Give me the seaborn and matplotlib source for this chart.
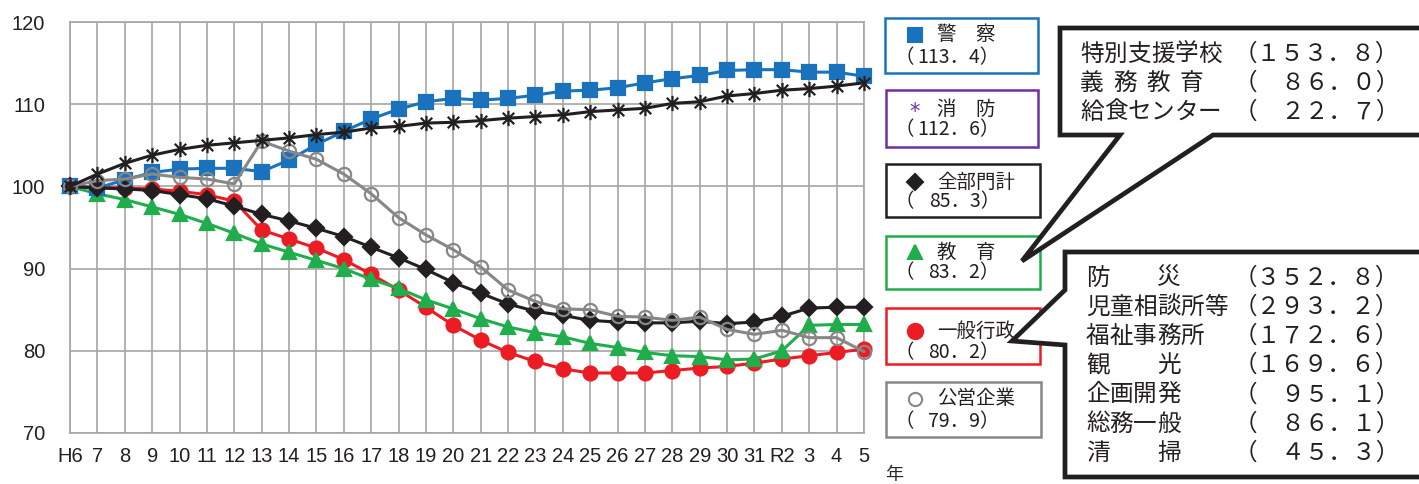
import matplotlib
matplotlib.use('Agg')
import numpy as np
import pandas as pd
import matplotlib.pyplot as plt
import seaborn as sns
from matplotlib.patches import Rectangle, Polygon
from matplotlib.lines import Line2D
from matplotlib.path import Path

# --- data (index, H6 = 100) ---
years = ['H6', '7', '8', '9', '10', '11', '12', '13', '14', '15', '16', '17', '18', '19', '20',
         '21', '22', '23', '24', '25', '26', '27', '28', '29', '30', '31', 'R2', '3', '4', '5']
police = [100, 99.8, 100.8, 101.7, 102.1, 102.2, 102.2, 101.8, 103.2, 105.1, 106.7, 108.2, 109.4, 110.3, 110.7,
          110.5, 110.7, 111.1, 111.6, 111.7, 112.0, 112.6, 113.1, 113.5, 114.1, 114.2, 114.2, 113.9, 113.9, 113.4]
fire = [100, 101.5, 102.8, 103.8, 104.5, 105.0, 105.3, 105.6, 105.9, 106.3, 106.6, 107.1, 107.3, 107.7, 107.8,
        108.0, 108.3, 108.5, 108.7, 109.1, 109.3, 109.5, 110.1, 110.3, 111.0, 111.3, 111.7, 111.9, 112.2, 112.6]
total = [100, 99.8, 99.7, 99.5, 99.0, 98.5, 97.6, 96.6, 95.8, 94.9, 93.9, 92.6, 91.3, 89.9, 88.3,
         87.0, 85.7, 84.8, 84.3, 83.7, 83.5, 83.4, 83.4, 83.6, 83.3, 83.5, 84.2, 85.2, 85.3, 85.3]
education = [100, 99.1, 98.4, 97.5, 96.6, 95.5, 94.3, 93.0, 92.0, 91.0, 90.0, 88.7, 87.6, 86.2, 85.1,
             83.9, 82.9, 82.2, 81.7, 80.9, 80.4, 79.8, 79.4, 79.3, 78.9, 79.0, 80.0, 83.1, 83.2, 83.2]
admin = [100, 99.9, 99.8, 99.7, 99.4, 99.0, 98.2, 94.7, 93.6, 92.5, 91.1, 89.3, 87.4, 85.3, 83.1,
         81.3, 79.8, 78.7, 77.8, 77.3, 77.3, 77.3, 77.6, 77.9, 78.1, 78.5, 79.0, 79.4, 79.8, 80.2]
public = [100, 100.7, 100.9, 101.5, 101.1, 100.9, 100.3, 105.5, 104.3, 103.3, 101.5, 99.1, 96.2, 94.1, 92.3,
          90.2, 87.4, 86.0, 85.1, 85.0, 84.2, 84.1, 83.7, 84.1, 82.6, 82.0, 82.5, 81.6, 81.6, 79.9]

legend_names = ['警　察', '消　防', '全部門計', '教　育', '一般行政', '公営企業']
legend_values = ['113．4）', '112．6）', '85．3）', '83．2）', '80．2）', '79．9）']

callout1_labels = ['特別支援学校', '義務教育', '給食センター']
callout1_values = ['（１５３．８）', '（　８６．０）', '（　２２．７）']
callout2_labels = ['防　　災', '児童相談所等', '福祉事務所', '観　　光', '企画開発', '総務一般', '清　　掃']
callout2_values = ['（３５２．８）', '（２９３．２）', '（１７２．６）', '（１６９．６）',
                   '（　９５．１）', '（　８６．１）', '（　４５．３）']

W, H = 1419, 484
BLUE = '#1a72bd'
RED = '#ec1c24'
GREEN = '#1fae4b'
GRAY = '#878787'
BLACK = '#231f20'
PURPLE = '#7030a0'
GRID = '#a6a6a6'
JP = ['Noto Sans CJK JP', 'DejaVu Sans']


def fx(x):
    return x / W


def fy(y):
    return 1 - y / H


sns.set_style('white')
plt.rcParams['font.family'] = JP

fig = plt.figure(figsize=(W / 100, H / 100), dpi=100)
ax = fig.add_axes([fx(70), fy(433), (864 - 70) / W, (433 - 22) / H])

star = Path([(0, -1), (0, 1), (-0.75, -0.75), (0.75, 0.75), (-0.75, 0.75), (0.75, -0.75)],
            [Path.MOVETO, Path.LINETO, Path.MOVETO, Path.LINETO, Path.MOVETO, Path.LINETO])

x = np.arange(len(years))
series = [
    # values, color, marker, size, face, zorder
    (admin, RED, 'o', 10, RED, 3),
    (education, GREEN, '^', 9.5, GREEN, 4),
    (police, BLUE, 's', 9.5, BLUE, 5),
    (total, BLACK, 'D', 8, BLACK, 6),
    (public, GRAY, 'o', 9.5, 'none', 7),
    (fire, BLACK, star, 11, 'none', 8),
]
for vals, col, mk, ms, mfc, z in series:
    sns.lineplot(x=x, y=vals, ax=ax, color=col, lw=2.2, marker=mk, markersize=ms,
                 markerfacecolor=mfc, markeredgecolor=col, markeredgewidth=1.6,
                 zorder=z, clip_on=False)

ax.set_xlim(0, 29)
ax.set_ylim(70, 120)
ax.set_xticks(x)
ax.set_xticklabels(years)
ax.set_yticks(np.arange(70, 121, 10))
ax.set_xlabel('')
ax.set_ylabel('')
ax.grid(True, color=GRID, lw=1.2)
ax.set_axisbelow(True)
for sp in ax.spines.values():
    sp.set_color(GRID)
    sp.set_linewidth(1.2)
ax.tick_params(axis='both', direction='out', length=5, width=1.2, color=GRID, labelsize=14.5,
               labelcolor='#231f20')
ax.tick_params(axis='x', pad=5)
ax.tick_params(axis='y', pad=13)
for lab in ax.get_xticklabels() + ax.get_yticklabels():
    lab.set_family('Liberation Sans')

fig.text(fx(885), fy(475), '年', fontsize=13, va='center', ha='left', family=JP)

# --- legend boxes ---
boxes = [(885, 18, 1038, 73, BLUE), (886, 90, 1038, 147, PURPLE), (886, 164, 1040, 217, BLACK),
         (886, 236, 1040, 289, GREEN), (886, 308, 1040, 364, RED), (886, 382, 1041, 437, GRAY)]
rows = [(35, 58), (109, 130), (182, 202), (252, 273), (331, 353), (399, 422)]
markers = [('s', 9.5, BLUE, BLUE), (None, 0, PURPLE, PURPLE), ('D', 8, BLACK, BLACK),
           ('^', 10, GREEN, GREEN), ('o', 11, RED, RED), ('o', 9.5, 'white', GRAY)]
for (x0, y0, x1, y1, col), (r1, r2), (mk, ms, fc, ec), name, val in zip(
        boxes, rows, markers, legend_names, legend_values):
    fig.add_artist(Rectangle((fx(x0), fy(y1)), (x1 - x0) / W, (y1 - y0) / H,
                             transform=fig.transFigure, fill=False, edgecolor=col, lw=1.8))
    if mk is None:
        fig.text(fx(915), fy(r1 + 3), '*', fontsize=15, va='center', ha='center', color=PURPLE,
                 family='DejaVu Sans')
    else:
        fig.add_artist(Line2D([fx(915)], [fy(r1)], transform=fig.transFigure, marker=mk, markersize=ms,
                              markerfacecolor=fc, markeredgecolor=ec, markeredgewidth=1.5, ls='none'))
    fig.text(fx(937), fy(r1), name, fontsize=14, va='center', ha='left', color=BLACK)
    fig.text(fx(895), fy(r2), '（', fontsize=14, va='center', ha='left', color=BLACK)
    fig.text(fx(1000), fy(r2), val, fontsize=14, va='center', ha='right', color=BLACK)

# --- callouts ---
c1 = [(1060, 28), (1440, 28), (1440, 135), (1213, 135), (1022, 261), (1120, 135), (1060, 135)]
c2 = [(1065, 252), (1440, 252), (1440, 477), (1065, 477), (1065, 345), (1012, 341), (1065, 290)]
for pts in (c1, c2):
    fig.add_artist(Polygon([(fx(a), fy(b)) for a, b in pts], closed=True, transform=fig.transFigure,
                           facecolor='white', edgecolor=BLACK, lw=3.4, joinstyle='miter', zorder=10))

FS = 17
EM = FS * 100 / 72


def draw_rows(labels, values, x0, y0, dy, pitch=None):
    for i, (lab, val) in enumerate(zip(labels, values)):
        y = y0 + i * dy
        step = pitch.get(lab, 1.0) if pitch else 1.0
        for j, ch in enumerate(lab):
            if ch != '　':
                fig.text(fx(x0 + j * step * EM), fy(y), ch, fontsize=FS, va='center', ha='left',
                         color=BLACK, zorder=11)
        fig.text(fx(1234), fy(y), val, fontsize=FS, va='center', ha='left', color=BLACK, zorder=11)


draw_rows(callout1_labels, callout1_values, 1080, 54, 29, pitch={'義務教育': 1.4})
draw_rows(callout2_labels, callout2_values, 1086, 278, 29.2)

fig.savefig('out.png', dpi=100)
